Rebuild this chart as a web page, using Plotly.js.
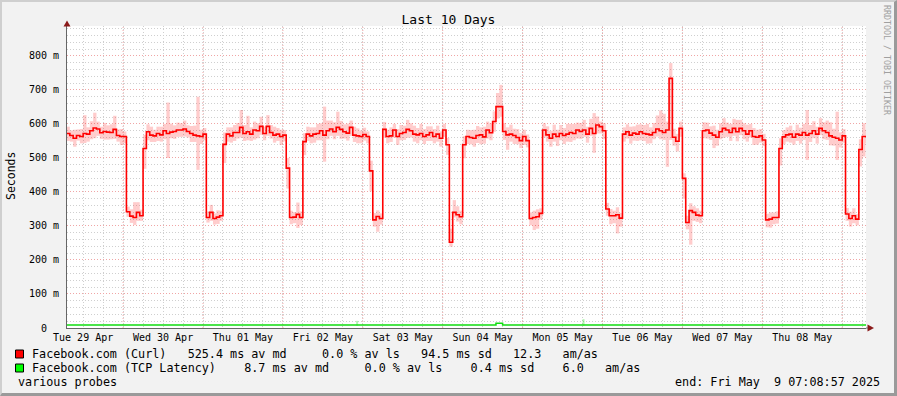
<!DOCTYPE html>
<html><head><meta charset="utf-8">
<script src="https://cdn.plot.ly/plotly-3.0.1.min.js"></script>
<style>
html,body{margin:0;padding:0;background:#F2F2F2;}
#wrap{position:relative;width:897px;height:396px;background:#F2F2F2;overflow:hidden;}
#frame{position:absolute;left:0;top:0;width:897px;height:396px;box-sizing:border-box;border-top:2px solid #CFCFCF;border-left:2px solid #CFCFCF;border-right:3px solid #9A9A9A;border-bottom:3px solid #9A9A9A;}
#chart{position:absolute;left:0;top:0;width:897px;height:396px;}
</style></head><body>
<div id="wrap"><div id="frame"></div><div id="chart"></div></div>
<script>
// ---- data (ms) : hourly buckets starting 2025-04-29 07:00 ----
const START = Date.UTC(2025,3,29,7,0,0);
const HOUR = 3600000;
const curlMedian = [
572,566,558,566,563,572,570,580,588,585,574,578,576,575,584,566,563,563,
342,329,325,340,330,528,
577,567,565,572,568,580,572,576,578,582,
582,585,578,572,567,565,563,570,
325,340,322,326,330,540,
570,565,575,575,590,572,577,570,582,580,593,572,593,575,567,570,563,567,
470,325,326,334,325,548,
570,565,570,572,580,567,580,585,577,590,584,577,573,590,567,565,563,569,563,
462,318,328,322,
584,563,565,582,563,572,575,584,
580,570,568,572,563,568,575,563,570,558,582,
539,252,340,333,327,539,
563,560,558,566,568,562,582,574,607,651,651,578,568,570,566,560,551,563,551,
322,325,327,337,
582,568,558,570,563,572,566,570,575,572,582,578,582,570,587,572,597,
592,580,
350,330,330,333,323,
570,577,567,573,570,577,572,570,568,575,585,580,575,582,734,561,549,587,
440,310,345,340,332,330,
580,582,573,567,561,577,587,582,575,587,577,587,580,570,580,563,561,565,553,
318,320,325,325,528,
562,568,570,561,570,567,575,567,572,580,570,587,580,575,565,561,558,553,565,
335,322,330,320,525,
563,563
];
const curlSmokeUp = [
20,15,25,18,22,54,20,28,45,22,18,25,20,24,40,18,22,15,
15,20,45,30,18,40,
22,25,18,20,24,20,91,25,18,22,
20,25,18,22,28,115,20,18,
18,22,15,20,15,35,
20,25,22,28,51,25,47,20,25,22,28,20,33,22,25,18,20,15,
30,20,15,35,18,25,
22,25,20,28,22,84,30,25,28,46,25,22,28,20,25,22,18,20,15,
30,20,18,15,
22,20,25,18,22,25,20,28,
22,25,20,28,22,25,18,22,25,20,18,
20,40,36,25,18,25,
20,22,25,28,22,30,25,28,30,40,64,25,22,28,20,25,22,20,18,
18,20,22,15,
20,25,22,28,20,25,22,30,25,28,22,25,30,22,28,60,25,
15,22,
18,20,15,22,15,
20,22,25,20,28,22,25,30,22,28,40,60,55,25,45,25,22,20,
15,20,22,18,20,15,
25,22,20,28,22,25,30,22,25,28,35,25,22,28,20,25,22,20,18,
18,20,15,18,30,
20,22,25,20,28,22,25,74,25,28,22,30,25,35,40,25,78,22,20,
18,20,22,15,30,
39,20
];
const curlSmokeDown = [
22,18,25,15,20,28,22,25,30,20,18,24,22,20,28,18,25,20,
15,20,22,25,15,60,
25,20,18,22,20,25,72,18,22,20,
20,22,18,25,20,100,22,18,
15,25,18,20,15,55,
22,20,25,18,30,22,25,20,28,22,25,20,28,18,22,20,25,18,
60,20,18,40,22,40,
20,22,25,20,28,78,25,20,22,25,28,20,22,25,20,22,20,18,20,
60,20,45,18,
25,20,18,22,25,20,22,25,
20,22,25,20,22,18,25,20,22,25,20,
30,13,15,20,22,40,
22,20,25,22,28,20,25,22,30,35,30,25,44,22,25,20,22,25,20,
20,37,35,18,
22,20,25,22,28,20,25,22,28,20,25,22,20,25,22,57,25,
20,25,
20,25,22,55,25,
22,20,25,22,20,25,22,28,25,20,22,25,22,108,181,25,30,25,
60,20,100,25,20,22,
22,25,20,38,25,22,28,20,25,22,28,20,25,22,20,25,22,20,18,
22,25,20,18,50,
22,20,25,22,20,25,22,73,25,22,28,20,25,22,28,25,64,22,20,
20,24,22,18,50,
59,20
];
const tcpTimes = ['2025-04-29 07:00','2025-05-04 16:00','2025-05-04 18:00','2025-05-09 08:00'];
const tcpValues = [9, 14, 9, 9];
const tcpSmokeTimes = ['2025-05-02 22:00','2025-05-05 18:00'];
const tcpSmokeLow = [7, 7];
const tcpSmokeHigh = [21, 26];

const dayTickDates = ['2025-04-29 12:00','2025-04-30 12:00','2025-05-01 12:00','2025-05-02 12:00','2025-05-03 12:00','2025-05-04 12:00','2025-05-05 12:00','2025-05-06 12:00','2025-05-07 12:00','2025-05-08 12:00'];
const dayTickText = ['Tue 29 Apr','Wed 30 Apr','Thu 01 May','Fri 02 May','Sat 03 May','Sun 04 May','Mon 05 May','Tue 06 May','Wed 07 May','Thu 08 May'];
const midnightDates = ['2025-04-30','2025-05-01','2025-05-02','2025-05-03','2025-05-04','2025-05-05','2025-05-06','2025-05-07','2025-05-08','2025-05-09'];
const yTickVals = [0,100,200,300,400,500,600,700,800];
const yTickText = ['0  ','100 m','200 m','300 m','400 m','500 m','600 m','700 m','800 m'];

const legendRow1 = 'Facebook.com (Curl)   525.4 ms av md     0.0 % av ls   94.5 ms sd   12.3   am/as';
const legendRow2 = 'Facebook.com (TCP Latency)    8.7 ms av md     0.0 % av ls    0.4 ms sd    6.0   am/as';
const footLeft = 'various probes';
const footRight = 'end: Fri May  9 07:08:57 2025';

// ---- drawing ----
const MONO = 'DejaVu Sans Mono, monospace';
const nb = s => s.replace(/ /g, '\u00A0');
const px2x = p => (p - 67) / 799;
const py2y = p => (328 - p) / 302;

const hourTimes = curlMedian.map((_, i) => START + i * HOUR);
const lineX = hourTimes.concat([START + curlMedian.length * HOUR]);
const lineY = curlMedian.concat([curlMedian[curlMedian.length - 1]]);

const traces = [
  {type:'bar', x: hourTimes, base: curlMedian.map((v,i)=>v - curlSmokeDown[i]),
   y: curlMedian.map((v,i)=>curlSmokeUp[i] + curlSmokeDown[i]), width: HOUR, offset: 0,
   marker:{color:'rgba(255,0,0,0.2)', line:{width:0}}, hoverinfo:'skip'},
  {type:'bar', x: tcpSmokeTimes, base: tcpSmokeLow, y: tcpSmokeHigh.map((h,i)=>h - tcpSmokeLow[i]),
   width: HOUR*0.6, offset: 0, marker:{color:'rgba(0,220,0,0.3)', line:{width:0}}, hoverinfo:'skip'},
  {type:'scatter', mode:'lines', x: lineX, y: lineY, line:{color:'#FF0000', width:1.6, shape:'hv'}},
  {type:'scatter', mode:'lines', x: tcpTimes, y: tcpValues, line:{color:'#11DD11', width:1.5, shape:'hv'}}
];

const shapes = midnightDates.map(d => ({type:'line', xref:'x', yref:'paper', x0:d, x1:d, y0:0, y1:1,
  line:{color:'#F0A5A5', width:1, dash:'1px,2px'}, layer:'between'}));
// axis arrows
shapes.push({type:'path', xref:'paper', yref:'paper',
  path:`M ${px2x(67)} ${py2y(20.5)} L ${px2x(70.5)} ${py2y(26.5)} L ${px2x(63.5)} ${py2y(26.5)} Z`,
  fillcolor:'#8B1A1A', line:{width:0}});
shapes.push({type:'path', xref:'paper', yref:'paper',
  path:`M ${px2x(874)} ${py2y(328)} L ${px2x(867.5)} ${py2y(331.5)} L ${px2x(867.5)} ${py2y(324.5)} Z`,
  fillcolor:'#8B1A1A', line:{width:0}});
shapes.push({type:'line', xref:'paper', yref:'paper', x0:1, x1:px2x(868), y0:0, y1:0, line:{color:'#666', width:1}});
// legend swatches
shapes.push({type:'rect', xref:'paper', yref:'paper', x0:px2x(15.5), x1:px2x(23.5), y0:py2y(358), y1:py2y(350),
  fillcolor:'#FF0000', line:{color:'#000', width:1}});
shapes.push({type:'rect', xref:'paper', yref:'paper', x0:px2x(15.5), x1:px2x(23.5), y0:py2y(372), y1:py2y(364),
  fillcolor:'#00FF00', line:{color:'#000', width:1}});

const ann = (text, x, y, xanchor, size, extra) => Object.assign({xref:'paper', yref:'paper', x:px2x(x), y:py2y(y),
  xanchor:xanchor, yanchor:'middle', text:nb(text), showarrow:false, borderpad:0,
  font:{family:MONO, size:size, color:'#000'}}, extra || {});

const annotations = [
  ann(legendRow1, 30.7, 354, 'left', 11.75),
  ann(legendRow2, 30.7, 368, 'left', 11.75),
  ann(footLeft, 16.5, 382, 'left', 11.75),
  ann(footRight, 881, 382, 'right', 11.75),
  ann('Seconds', 11, 176, 'center', 11.5, {textangle:-90}),
  ann('RRDTOOL / TOBI OETIKER', 887, 60, 'center', 8.3, {textangle:90, font:{family:MONO, size:8.3, color:'#A0A0A0'}})
];

const layout = {
  width:897, height:396,
  margin:{l:67, r:31, t:26, b:68, pad:0},
  paper_bgcolor:'rgba(0,0,0,0)', plot_bgcolor:'#FFFFFF',
  showlegend:false, barmode:'overlay',
  title:{text:'Last 10 Days', font:{family:MONO, size:13, color:'#000'}, x:0.5, xref:'container', xanchor:'center',
    y:1 - 19/396, yref:'container', yanchor:'middle'},
  xaxis:{type:'date', range:['2025-04-29 07:08:57','2025-05-09 07:08:57'], tickmode:'array',
    tickvals:dayTickDates, ticktext:dayTickText, ticks:'', showgrid:false, zeroline:false,
    showline:true, linecolor:'#666', linewidth:1, tickfont:{family:MONO, size:10, color:'#000'},
    minor:{tickmode:'linear', tick0:'2025-04-29 00:00', dtick:6*HOUR, showgrid:true, gridcolor:'#CFCFCF', griddash:'1px,2px', gridwidth:1}},
  yaxis:{range:[0,888], tickmode:'array', tickvals:yTickVals, ticktext:yTickText.map(nb), ticks:'',
    showgrid:true, gridcolor:'#F0A5A5', griddash:'1px,2px', gridwidth:1, zeroline:false,
    showline:true, linecolor:'#666', linewidth:1, ticklabelstandoff:5,
    tickfont:{family:MONO, size:10, color:'#000'},
    minor:{tickmode:'linear', tick0:0, dtick:20, showgrid:true, gridcolor:'#CFCFCF', griddash:'1px,2px', gridwidth:1}},
  shapes:shapes, annotations:annotations
};

Plotly.newPlot('chart', traces, layout, {staticPlot:true, displayModeBar:false});
</script>
</body></html>
